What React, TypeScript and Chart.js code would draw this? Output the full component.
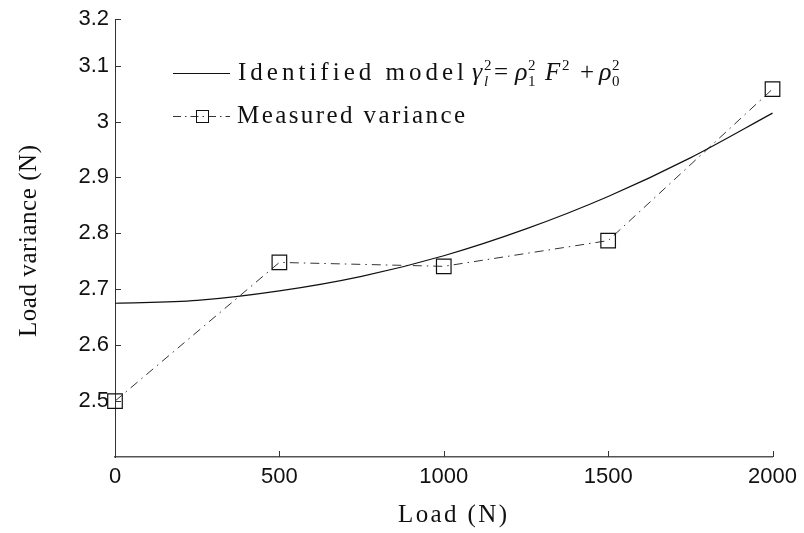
import { useEffect, useRef } from 'react';
import { Chart, registerables } from 'chart.js';

Chart.register(...registerables);

// ---- data ----
const measuredLoad = [0, 500, 1000, 1500, 2000];
const measuredVariance = [2.5, 2.748, 2.741, 2.787, 3.058];
const modelLoad = [0, 250, 500, 750, 1000, 1250, 1500, 1750, 2000];
const modelVariance = [2.675, 2.68, 2.697, 2.723, 2.76, 2.808, 2.866, 2.935, 3.015];
const xTickValues = [0, 500, 1000, 1500, 2000];
const xTickLabels = ['0', '500', '1000', '1500', '2000'];
const yTickValues = [2.5, 2.6, 2.7, 2.8, 2.9, 3.0, 3.1, 3.2];
const yTickLabels = ['2.5', '2.6', '2.7', '2.8', '2.9', '3', '3.1', '3.2'];
const xTitle = 'Load (N)';
const yTitle = 'Load variance (N)';
const legendModelText = 'Identified model';
const legendMeasuredText = 'Measured variance';
const xMin = 0;
const xMax = 2000;
const yMin = 2.4;
const yTop = 3.183;

const SERIF = '"Liberation Serif", "Times New Roman", serif';
const SANS = '"Liberation Sans", Arial, Helvetica, sans-serif';
const INK = '#111';

function drawSpaced(ctx: CanvasRenderingContext2D, text: string, x: number, y: number, targetWidth: number) {
  const chars = Array.from(text);
  const widths = chars.map((c) => ctx.measureText(c).width);
  const natural = widths.reduce((a, b) => a + b, 0);
  const gap = chars.length > 1 ? (targetWidth - natural) / (chars.length - 1) : 0;
  let cx = x;
  chars.forEach((c, i) => {
    ctx.fillText(c, cx, y);
    cx += widths[i] + gap;
  });
}

const decorPlugin = {
  id: 'decor',
  afterDraw(chart: any) {
    const ctx: CanvasRenderingContext2D = chart.ctx;
    const area = chart.chartArea;
    const xs = chart.scales.x;
    const ys = chart.scales.y;
    ctx.save();
    // inward tick marks
    ctx.strokeStyle = '#333';
    ctx.lineWidth = 1;
    ctx.setLineDash([]);
    ctx.beginPath();
    xs.ticks.forEach((t: any) => {
      const px = Math.round(xs.getPixelForValue(t.value)) + 0.5;
      ctx.moveTo(px, area.bottom);
      ctx.lineTo(px, area.bottom - 6);
    });
    ys.ticks.forEach((t: any) => {
      const py = Math.round(ys.getPixelForValue(t.value)) + 0.5;
      ctx.moveTo(area.left, py);
      ctx.lineTo(area.left + 6, py);
    });
    ctx.stroke();

    // axis titles
    ctx.fillStyle = INK;
    ctx.font = `25px ${SERIF}`;
    ctx.textBaseline = 'alphabetic';
    ctx.textAlign = 'left';
    drawSpaced(ctx, xTitle, 398, 522, 109);
    ctx.save();
    ctx.translate(36, 337);
    ctx.rotate(-Math.PI / 2);
    drawSpaced(ctx, yTitle, 0, 0, 192);
    ctx.restore();

    // legend row 1: solid line
    ctx.strokeStyle = INK;
    ctx.beginPath();
    ctx.moveTo(173, 73.5);
    ctx.lineTo(230, 73.5);
    ctx.stroke();
    ctx.font = `25px ${SERIF}`;
    drawSpaced(ctx, legendModelText, 238, 80, 226);
    // math part
    const it = (s: number) => `italic ${s}px ${SERIF}`;
    const rm = (s: number) => `${s}px ${SERIF}`;
    ctx.font = it(26);
    ctx.fillText('\u03B3', 472, 80);
    ctx.font = rm(15);
    ctx.fillText('2', 484, 70);
    ctx.font = it(15);
    ctx.fillText('l', 484, 86);
    ctx.font = rm(25);
    ctx.fillText('=', 494, 80);
    ctx.font = it(26);
    ctx.fillText('\u03C1', 515, 80);
    ctx.font = rm(15);
    ctx.fillText('2', 528, 70);
    ctx.fillText('1', 528, 86);
    ctx.font = it(25);
    ctx.fillText('F', 545, 80);
    ctx.font = rm(15);
    ctx.fillText('2', 562, 70);
    ctx.font = rm(25);
    ctx.fillText('+', 580, 80);
    ctx.font = it(26);
    ctx.fillText('\u03C1', 599, 80);
    ctx.font = rm(15);
    ctx.fillText('2', 612, 70);
    ctx.fillText('0', 612, 86);

    // legend row 2: dash-dot line with square
    ctx.strokeStyle = '#333';
    ctx.setLineDash([8, 4, 1.5, 4]);
    ctx.beginPath();
    ctx.moveTo(173, 116.5);
    ctx.lineTo(230, 116.5);
    ctx.stroke();
    ctx.setLineDash([]);
    ctx.strokeStyle = INK;
    ctx.strokeRect(196.5, 110.5, 12, 12);
    ctx.font = `25px ${SERIF}`;
    ctx.fillStyle = INK;
    drawSpaced(ctx, legendMeasuredText, 237, 123, 228);
    ctx.restore();
  },
};

export default function App() {
  const canvasRef = useRef<HTMLCanvasElement | null>(null);

  useEffect(() => {
    const canvas = canvasRef.current;
    if (!canvas) return;
    const chart = new Chart(canvas, {
      type: 'scatter',
      data: {
        datasets: [
          {
            label: legendModelText,
            data: modelLoad.map((x, i) => ({ x, y: modelVariance[i] })),
            showLine: true,
            borderColor: INK,
            borderWidth: 1.2,
            pointRadius: 0,
            cubicInterpolationMode: 'monotone',
            fill: false,
            clip: false,
          },
          {
            label: legendMeasuredText,
            data: measuredLoad.map((x, i) => ({ x, y: measuredVariance[i] })),
            showLine: true,
            borderColor: '#333',
            borderWidth: 1,
            borderDash: [9, 5, 1.5, 5],
            pointStyle: 'rect',
            pointRadius: 10.3,
            pointBorderColor: INK,
            pointBorderWidth: 1.2,
            pointBackgroundColor: 'rgba(0,0,0,0)',
            fill: false,
            clip: false,
          },
        ],
      },
      options: {
        responsive: false,
        animation: false,
        layout: { padding: { top: 17, right: 29, left: 0, bottom: 0 } },
        plugins: {
          legend: { display: false },
          tooltip: { enabled: false },
          title: { display: false },
        },
        scales: {
          x: {
            type: 'linear',
            min: xMin,
            max: xMax,
            afterBuildTicks: (scale: any) => {
              scale.ticks = xTickValues.map((v) => ({ value: v }));
            },
            afterFit: (scale: any) => {
              scale.height = 76;
            },
            ticks: {
              callback: (_v: any, i: number) => xTickLabels[i],
              font: { family: SANS, size: 22 },
              color: INK,
              padding: 7,
              maxRotation: 0,
              autoSkip: false,
            },
            grid: { display: false, drawTicks: false },
            border: { display: true, color: '#555', width: 1.5 },
          },
          y: {
            type: 'linear',
            min: yMin,
            max: yTop,
            afterBuildTicks: (scale: any) => {
              scale.ticks = yTickValues.map((v) => ({ value: Math.min(v, yTop) }));
            },
            afterFit: (scale: any) => {
              scale.width = 115;
            },
            ticks: {
              callback: (_v: any, i: number) => yTickLabels[i],
              font: { family: SANS, size: 22 },
              color: INK,
              padding: 6,
              autoSkip: false,
            },
            grid: { display: false, drawTicks: false },
            border: { display: true, color: '#333', width: 1 },
          },
        },
      } as any,
      plugins: [decorPlugin],
    });
    return () => chart.destroy();
  }, []);

  return (
    <div style={{ position: 'fixed', left: 0, top: 0, width: 804, height: 533, background: '#fff' }}>
      <canvas ref={canvasRef} width={804} height={533} style={{ display: 'block' }} />
    </div>
  );
}
